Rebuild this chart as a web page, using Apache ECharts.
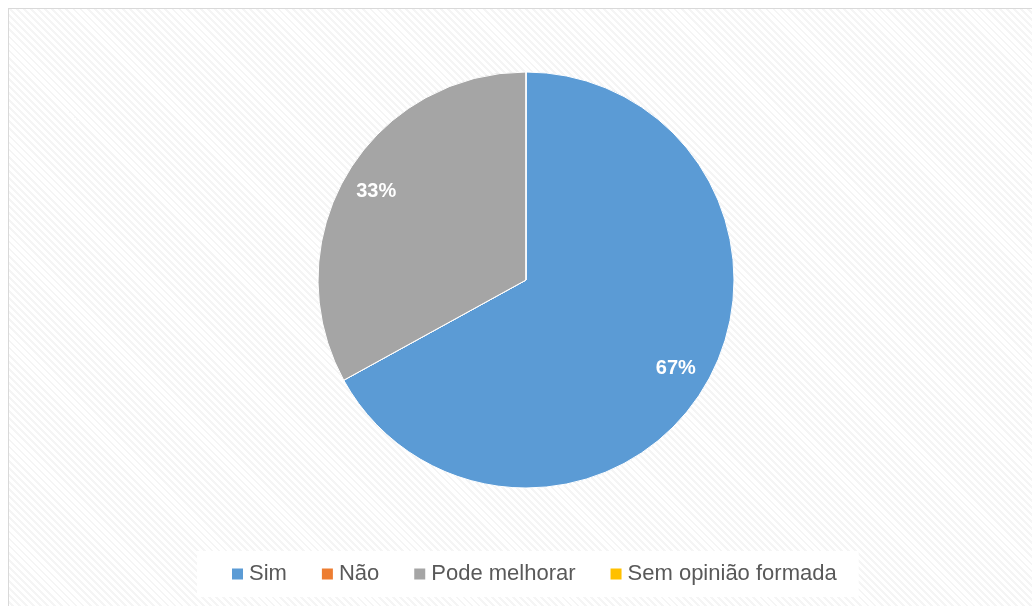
<!DOCTYPE html>
<html>
<head>
<meta charset="utf-8">
<script src="https://cdn.jsdelivr.net/npm/echarts@6/dist/echarts.min.js"></script>
<style>
  html, body { margin: 0; padding: 0; background: #fff; }
  #wrap { position: relative; width: 1032px; height: 606px; overflow: hidden; }
  #frame {
    position: absolute; left: 8px; top: 8px; width: 1040px; height: 620px;
    border: 1px solid #d9d9d9;
    background: repeating-linear-gradient(45deg, #ffffff 0 3px, #f5f5f5 3px 5px);
  }
  #chart { position: absolute; left: 0; top: 0; width: 1032px; height: 606px; }
</style>
</head>
<body>
<div id="wrap">
  <div id="frame"></div>
  <div id="chart"></div>
</div>
<script>
// ── 数据 ──
const categories = ['Sim', 'Não', 'Pode melhorar', 'Sem opinião formada']
const values = [67, 0, 33, 0]
const colors = ['#5B9BD5', '#ED7D31', '#A5A5A5', '#FFC000']

const pieData = categories.map((name, i) => ({ name, value: values[i] }))

const chart = echarts.init(document.getElementById('chart'))
chart.setOption({
  color: colors,
  backgroundColor: 'transparent',
  textStyle: { fontFamily: 'Liberation Sans, Arial, sans-serif' },
  legend: {
    data: categories,
    left: 197,
    top: 551,
    backgroundColor: '#ffffff',
    padding: [12, 22, 12, 33],
    itemWidth: 13,
    itemHeight: 13,
    itemGap: 33,
    icon: 'rect',
    selectedMode: false,
    textStyle: { fontSize: 22, color: '#595959', fontFamily: 'Liberation Sans, Arial, sans-serif' },
  },
  series: [
    {
      // 主饼图
      type: 'pie',
      center: [526, 280],
      radius: [0, 208],
      startAngle: 90,
      clockwise: true,
      silent: true,
      data: pieData,
      label: { show: false },
      labelLine: { show: false },
      itemStyle: { borderColor: '#ffffff', borderWidth: 1 },
      emphasis: { disabled: true },
    },
    {
      // 透明外环，只用来放百分比标签
      type: 'pie',
      center: [526, 280],
      radius: [134, 208],
      startAngle: 90,
      clockwise: true,
      silent: true,
      data: pieData,
      itemStyle: { color: 'rgba(0,0,0,0)' },
      label: {
        show: true,
        position: 'inside',
        formatter: (p) => (p.value ? Math.round(p.percent) + '%' : ''),
        color: '#ffffff',
        fontSize: 20,
        fontWeight: 'bold',
        fontFamily: 'Liberation Sans, Arial, sans-serif',
      },
      labelLine: { show: false },
      emphasis: { disabled: true },
    },
  ],
})
</script>
</body>
</html>
